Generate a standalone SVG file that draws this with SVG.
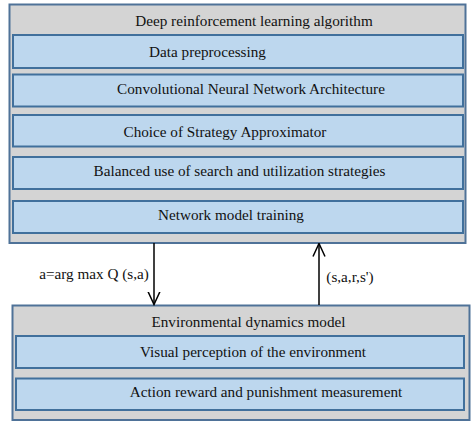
<svg xmlns="http://www.w3.org/2000/svg" width="474" height="429" viewBox="0 0 474 429">
<style>
.outer{fill:#d4d4d4;stroke:#4f7298;stroke-width:2}
.inner{fill:#bdd7ee;stroke:#41709c;stroke-width:2}
text{font-family:"Liberation Serif","Times New Roman",serif;font-size:15.2px;fill:#111;text-anchor:middle}
.conn{stroke:#000;stroke-width:1.5;fill:none}
</style>
<defs>
<marker id="arrow" viewBox="0 0 14 14" refX="13" refY="7" markerWidth="14" markerHeight="14" markerUnits="userSpaceOnUse" orient="auto">
<path d="M0,1 L13,7 L0,13" fill="none" stroke="#000" stroke-width="1.5"/>
</marker>
</defs>
<rect width="474" height="429" fill="#fff"/>
<g id="drl">
<rect class="outer" x="9.5" y="4.5" width="456" height="238.5"/>
<text x="254" y="26">Deep reinforcement learning algorithm</text>
</g>
<g id="data-preprocessing">
<rect class="inner" x="13" y="35" width="450" height="33"/>
<text x="207.5" y="57">Data preprocessing</text>
</g>
<g id="cnn-architecture">
<rect class="inner" x="13" y="74.5" width="450" height="32"/>
<text x="251" y="93.5">Convolutional Neural Network Architecture</text>
</g>
<g id="strategy-approximator">
<rect class="inner" x="13" y="115" width="450" height="31.5"/>
<text x="225" y="137">Choice of Strategy Approximator</text>
</g>
<g id="balanced-use">
<rect class="inner" x="13" y="157" width="450" height="32"/>
<text x="239.5" y="176">Balanced use of search and utilization strategies</text>
</g>
<g id="network-training">
<rect class="inner" x="13" y="201" width="450" height="32"/>
<text x="231" y="220">Network model training</text>
</g>
<g id="env-model">
<rect class="outer" x="12.5" y="305.5" width="457" height="114.5"/>
<text x="248.5" y="327">Environmental dynamics model</text>
</g>
<g id="visual-perception">
<rect class="inner" x="16" y="336" width="448" height="32"/>
<text x="253" y="357">Visual perception of the environment</text>
</g>
<g id="action-reward">
<rect class="inner" x="16" y="378.5" width="448" height="31.5"/>
<text x="266" y="397">Action reward and punishment measurement</text>
</g>
<g id="connectors">
<line class="conn" x1="154" y1="243" x2="154" y2="304.5" marker-end="url(#arrow)"/>
<line class="conn" x1="319" y1="305" x2="319" y2="243.5" marker-end="url(#arrow)"/>
<text x="94" y="279">a=arg max Q (s,a)</text>
<text x="350" y="282">(s,a,r,s')</text>
</g>
</svg>
